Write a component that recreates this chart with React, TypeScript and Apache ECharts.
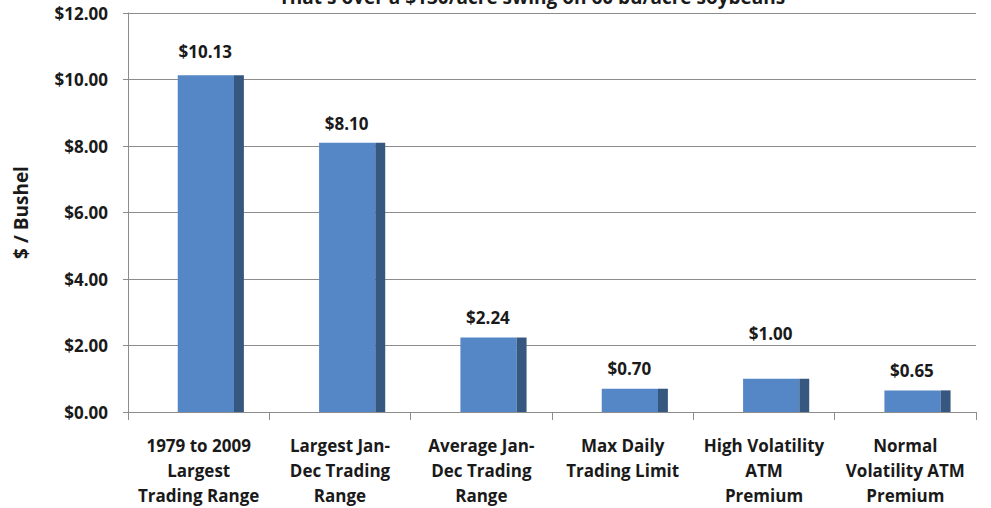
import React, { useEffect, useRef } from "react";
import * as echarts from "echarts";

const titleText = "That's over a $130/acre swing on 60 bu/acre soybeans";
const categories = [
  "1979 to 2009\nLargest\nTrading Range",
  "Largest Jan-\nDec Trading\nRange",
  "Average Jan-\nDec Trading\nRange",
  "Max Daily\nTrading Limit",
  "High Volatility\nATM\nPremium",
  "Normal\nVolatility ATM\nPremium",
];
const values = [10.13, 8.1, 2.24, 0.7, 1.0, 0.65];
const yAxisName = "$ / Bushel";

// label lift above each bar (px) — styling only
const labelLift = [24, 19, 20, 20, 45, 20];

const FONT = '"Open Sans", "Liberation Sans", sans-serif';

export default function App() {
  const ref = useRef<HTMLDivElement>(null);
  useEffect(() => {
    if (!ref.current) return;
    const chart = echarts.init(ref.current, undefined, { renderer: "svg" });
    chart.setOption({
      animation: false,
      backgroundColor: "#ffffff",
      textStyle: { fontFamily: FONT },
      graphic: [
        {
          type: "text",
          x: 532,
          y: -13,
          style: {
            text: titleText,
            font: `bold 19px ${FONT}`,
            fill: "#1a1a1a",
            align: "center",
          },
        },
      ],
      grid: { left: 128, right: 15, top: 13, bottom: 96 },
      xAxis: {
        type: "category",
        data: categories,
        axisLine: { lineStyle: { color: "#8c8c8c", width: 1 } },
        axisTick: { show: true, length: 8, lineStyle: { color: "#8c8c8c" } },
        axisLabel: {
          interval: 0,
          margin: 21,
          fontSize: 17,
          fontWeight: "bold",
          fontFamily: FONT,
          color: "#1a1a1a",
          lineHeight: 25,
          align: "center",
        },
      },
      yAxis: {
        type: "value",
        min: 0,
        max: 12,
        interval: 2,
        name: yAxisName,
        nameLocation: "middle",
        nameGap: 98,
        nameRotate: 90,
        nameTextStyle: {
          fontSize: 19,
          fontWeight: "bold",
          fontFamily: FONT,
          color: "#1a1a1a",
        },
        axisLine: { show: true, lineStyle: { color: "#8c8c8c", width: 1 } },
        axisTick: { show: true, length: 5, lineStyle: { color: "#8c8c8c" } },
        splitLine: { show: true, lineStyle: { color: "#8c8c8c", width: 1 } },
        axisLabel: {
          margin: 20,
          fontSize: 17,
          fontWeight: "bold",
          fontFamily: FONT,
          color: "#1a1a1a",
          formatter: (v: number) => "$" + v.toFixed(2),
        },
      },
      series: [
        {
          type: "custom",
          encode: { x: 0, y: 1 },
          data: values.map((v, i) => [i, v]),
          renderItem: (params: any, api: any) => {
            const idx = api.value(0);
            const v = api.value(1);
            const top = api.coord([idx, v]);
            const base = api.coord([idx, 0]);
            const w = api.size([1, 0])[0];
            const cx = top[0];
            const fl = cx - w * 0.148;
            const fr = cx + w * 0.25;
            const sr = cx + w * 0.32;
            const h = base[1] - top[1];
            return {
              type: "group",
              children: [
                {
                  type: "rect",
                  shape: { x: fl, y: top[1], width: fr - fl, height: h },
                  style: { fill: "#5586C6" },
                },
                {
                  type: "rect",
                  shape: { x: fr, y: top[1], width: sr - fr, height: h },
                  style: { fill: "#36577F" },
                },
                {
                  type: "text",
                  x: cx + w * 0.047,
                  y: top[1] - labelLift[params.dataIndex],
                  style: {
                    text: "$" + v.toFixed(2),
                    font: `bold 17px ${FONT}`,
                    fill: "#1a1a1a",
                    align: "center",
                    verticalAlign: "middle",
                  },
                },
              ],
            };
          },
        },
      ],
    });
    return () => chart.dispose();
  }, []);
  return <div ref={ref} style={{ width: 991, height: 508, position: "fixed", left: 0, top: 0 }} />;
}
